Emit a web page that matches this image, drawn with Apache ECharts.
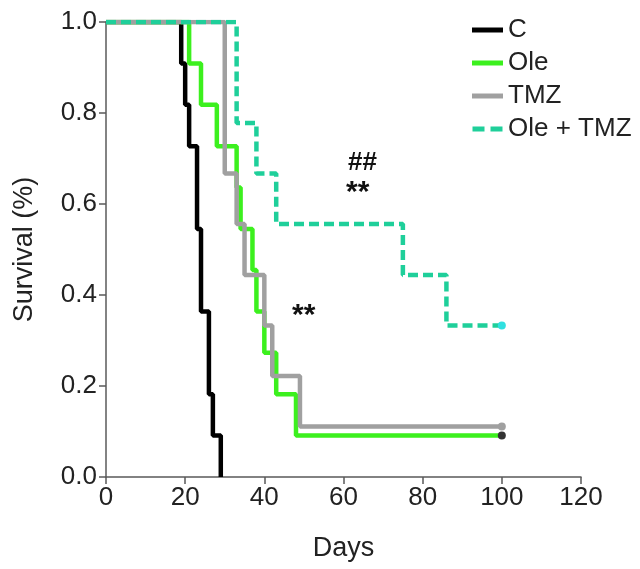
<!DOCTYPE html>
<html>
<head>
<meta charset="utf-8">
<script src="https://cdn.jsdelivr.net/npm/echarts@6/dist/echarts.min.js"></script>
<style>html,body{margin:0;padding:0;background:#fff}#c{width:640px;height:569px}</style>
</head>
<body>
<div id="c"></div>
<script>
var xTicks = [0, 20, 40, 60, 80, 100, 120];
var yTicks = [0.0, 0.2, 0.4, 0.6, 0.8, 1.0];

var cDays = [0, 19, 20, 21, 23, 24, 26, 27, 29];
var cSurv = [1, 0.909, 0.818, 0.727, 0.545, 0.364, 0.182, 0.091, 0];

var oleDays = [0, 21, 24, 28, 33, 34, 37, 38, 40, 43, 48, 100];
var oleSurv = [1, 0.909, 0.818, 0.727, 0.636, 0.545, 0.455, 0.364, 0.273, 0.182, 0.091, 0.091];

var tmzDays = [0, 30, 33, 35, 40, 42, 49, 100];
var tmzSurv = [1, 0.667, 0.556, 0.444, 0.333, 0.222, 0.111, 0.111];

var comboDays = [0, 33, 38, 43, 75, 86, 100];
var comboSurv = [1, 0.778, 0.667, 0.556, 0.444, 0.333, 0.333];

var seriesNames = ['C', 'Ole', 'TMZ', 'Ole + TMZ'];

function build(days, surv, endColor) {
  return days.map(function (d, i) {
    var item = { value: [d, surv[i]] };
    if (endColor && i === days.length - 1) {
      item.symbol = 'circle';
      item.symbolSize = 8;
      item.itemStyle = { color: endColor };
    }
    return item;
  });
}

var chart = echarts.init(document.getElementById('c'), null, { renderer: 'canvas' });
var fontFam = 'Liberation Sans, Arial, sans-serif';
var axisColor = '#5a5a5a';
var solidIcon = 'rect';
var dashIcon = 'path://M0,0H12V5H0Z M18,0H30V5H18Z';

var option = {
  animation: false,
  backgroundColor: '#fff',
  grid: { left: 106, right: 59, top: 22, bottom: 92, containLabel: false },
  xAxis: {
    type: 'value', min: 0, max: 120, interval: 20,
    name: 'Days', nameLocation: 'middle', nameGap: 58,
    nameTextStyle: { fontSize: 27, color: '#222', fontFamily: fontFam },
    axisLine: { lineStyle: { color: axisColor, width: 1.5 } },
    axisTick: { show: true, length: 7, lineStyle: { color: axisColor, width: 1.5 } },
    axisLabel: { fontSize: 26, color: '#222', fontFamily: fontFam, margin: 8 },
    splitLine: { show: false }
  },
  yAxis: {
    type: 'value', min: 0, max: 1, interval: 0.2,
    name: 'Survival (%)', nameLocation: 'middle', nameGap: 68,
    nameTextStyle: { fontSize: 27, color: '#222', fontFamily: fontFam },
    axisLine: { show: true, lineStyle: { color: axisColor, width: 1.5 } },
    axisTick: { show: true, length: 7, lineStyle: { color: axisColor, width: 1.5 } },
    axisLabel: { fontSize: 26, color: '#222', fontFamily: fontFam, margin: 9,
      formatter: function (v) { return v.toFixed(1); } },
    splitLine: { show: false }
  },
  legend: {
    orient: 'vertical', left: 467, top: 12, itemGap: 7,
    itemWidth: 31, itemHeight: 5,
    textStyle: { fontSize: 26, color: '#222', fontFamily: fontFam },
    data: [
      { name: seriesNames[0], icon: solidIcon },
      { name: seriesNames[1], icon: solidIcon },
      { name: seriesNames[2], icon: solidIcon },
      { name: seriesNames[3], icon: dashIcon }
    ]
  },
  series: [
    { name: seriesNames[0], type: 'line', step: 'end', symbol: 'none', showSymbol: true,
      lineStyle: { color: '#000', width: 4.5 }, itemStyle: { color: '#000' },
      data: build(cDays, cSurv, null), z: 2 },
    { name: seriesNames[1], type: 'line', step: 'end', symbol: 'none', showSymbol: true,
      lineStyle: { color: '#3cf01e', width: 4.5 }, itemStyle: { color: '#3cf01e' },
      data: build(oleDays, oleSurv, '#333'), z: 3 },
    { name: seriesNames[2], type: 'line', step: 'end', symbol: 'none', showSymbol: true,
      lineStyle: { color: '#a0a0a0', width: 4.5 }, itemStyle: { color: '#a0a0a0' },
      data: build(tmzDays, tmzSurv, '#a0a0a0'), z: 4 },
    { name: seriesNames[3], type: 'line', step: 'end', symbol: 'none', showSymbol: true,
      lineStyle: { color: '#1fcf9a', width: 4.5, type: [10, 5] }, itemStyle: { color: '#1fcf9a' },
      data: build(comboDays, comboSurv, '#30e0e0'), z: 5 }
  ],
  graphic: [
    { type: 'text', left: 348, top: 150, style: { text: '##', fontSize: 26, fontWeight: 'bold', fill: '#111', fontFamily: fontFam } },
    { type: 'text', left: 346, top: 178, style: { text: '**', fontSize: 30, fontWeight: 'bold', fill: '#111', fontFamily: fontFam } },
    { type: 'text', left: 292, top: 301, style: { text: '**', fontSize: 30, fontWeight: 'bold', fill: '#111', fontFamily: fontFam } }
  ]
};
chart.setOption(option);
</script>
</body>
</html>
